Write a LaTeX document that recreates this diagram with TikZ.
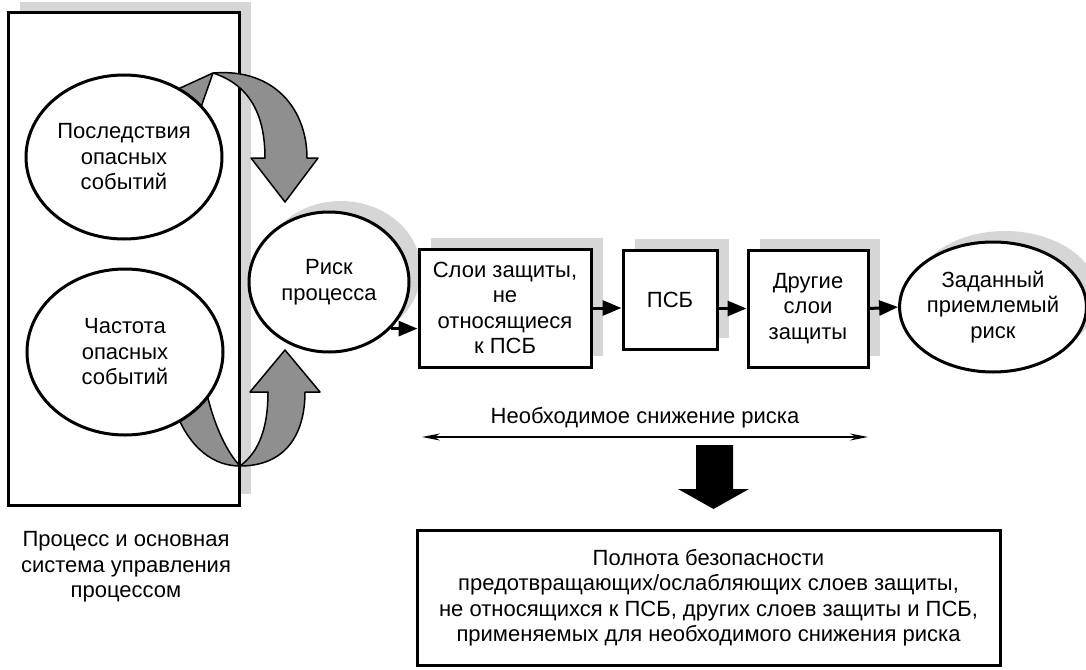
\documentclass[tikz,border=0pt]{standalone}
\usepackage{fontspec}
\setmainfont{Liberation Sans}
\usetikzlibrary{arrows.meta,shapes.geometric,shadows}
\definecolor{shadowgray}{gray}{0.84}
\definecolor{bandgray}{gray}{0.56}
\tikzset{
  every node/.style={font=\fontsize{22}{25.5}\selectfont, align=center, inner sep=0pt},
  blk/.style={draw, line width=3pt, fill=white},
  withshadow/.style={general shadow={fill=shadowgray, shadow xshift=12pt, shadow yshift=11pt}},
  oval/.style={blk, ellipse, withshadow},
  layer/.style={blk, rectangle, withshadow},
  flow/.style={line width=3pt, -{Triangle[length=19pt,width=15pt]}},
  band/.style={fill=bandgray, draw, line width=1.5pt, line join=round},
}
\begin{document}
\begin{tikzpicture}[x=1pt,y=-1pt]
  \useasboundingbox (0,0) rectangle (1086,669);
  \node[blk, withshadow, minimum width=231pt, minimum height=492pt] at (123.5,259) (proc) {};
  \node at (126,567) (proclabel) {Процесс и основная\\система управления\\процессом};
  % curved gray arrows
  \draw[band] (165,95) -- (213,73) .. controls (275,68) and (307,110) .. (307,158)
    -- (318,158) -- (285,202) -- (251,158) -- (265,158)
    .. controls (265,115) and (250,85) .. (213,73) -- (200,110) -- cycle;
  \draw[band] (175,410) .. controls (190,450) and (215,466) .. (240,466)
    .. controls (285,466) and (305,435) .. (305,392)
    -- (320,392) -- (285,350) -- (250,392) -- (268,392)
    .. controls (268,435) and (255,455) .. (240,466)
    .. controls (225,450) and (212,420) .. (205,385) -- cycle;
  \node[blk, ellipse, minimum width=196pt, minimum height=164pt] at (124,157) (conseq) {Последствия\\опасных\\событий};
  \node[blk, ellipse, minimum width=196pt, minimum height=166pt] at (125,352) (freq) {Частота\\опасных\\событий};
  \node[oval, minimum width=160pt, minimum height=140pt] at (329,282) (risk) {Риск\\процесса};
  \node[layer, minimum width=172pt, minimum height=118pt] at (505,308) (nonsis) {Слои защиты,\\не\\относящиеся\\к ПСБ};
  \node[layer, minimum width=94pt, minimum height=99pt] at (670,299.5) (sis) {ПСБ};
  \node[layer, minimum width=120pt, minimum height=117pt] at (808,308.5) (other) {Другие\\слои\\защиты};
  \node[oval, minimum width=182pt, minimum height=130pt] at (993,307) (target) {Заданный\\приемлемый\\риск};
  \draw[flow] (risk.-37) -- (risk.-37 -| nonsis.west);
  \draw[flow] (nonsis.east) -- (nonsis.east -| sis.west);
  \draw[flow] (sis.east |- other.west) -- (other.west);
  \draw[flow] (other.east) -- (target.west);
  % required risk reduction
  \coordinate (rrl) at (422,437);
  \coordinate (rrr) at (868,437);
  \draw[line width=1.5pt, {Stealth[length=18pt,width=7pt]}-{Stealth[length=18pt,width=7pt]}] (rrl) -- (rrr);
  \node at (645,418) (rrtext) {Необходимое снижение риска};
  \fill (696,445) -- (733,445) -- (733,489) -- (749,489) -- (713.5,509) -- (678,489) -- (696,489) -- cycle;
  \node[blk, minimum width=583pt, minimum height=135pt] at (708.5,597.5) (sil) {Полнота безопасности\\предотвращающих/ослабляющих слоев защиты,\\не относящихся к ПСБ, других слоев защиты и ПСБ,\\применяемых для необходимого снижения риска};
\end{tikzpicture}
\end{document}
